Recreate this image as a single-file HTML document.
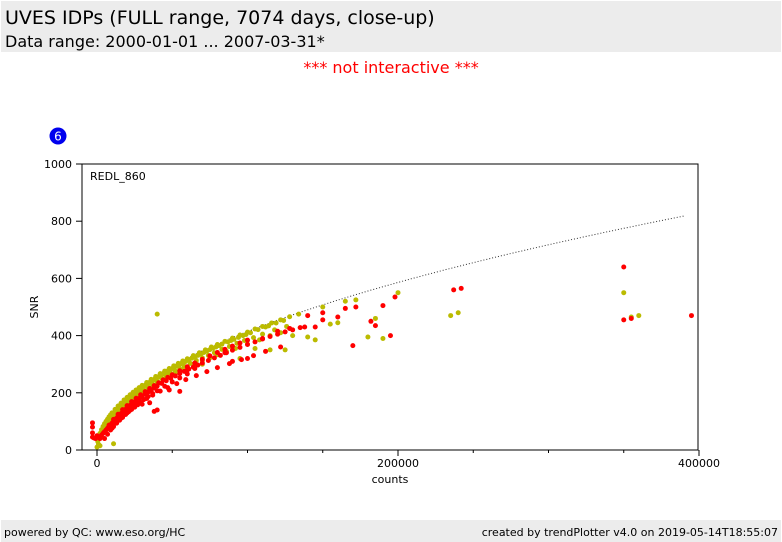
<!DOCTYPE html>
<html><head><meta charset="utf-8"><style>
body{margin:0;width:782px;height:542px;background:#fff;font-family:"DejaVu Sans",sans-serif;overflow:hidden;position:relative}
#hdr{position:absolute;left:1px;top:1px;width:780px;height:51px;background:#ececec}
#t1{position:absolute;left:4px;top:6px;font-size:19px;color:#000}
#t2{position:absolute;left:4px;top:31px;font-size:16px;color:#000}
#ni{position:absolute;left:0;width:782px;text-align:center;top:58px;font-size:16px;color:#f00}
#ftr{position:absolute;left:1px;top:520px;width:780px;height:22px;background:#ececec;font-size:11px}
#fl{position:absolute;left:3px;top:6px}#fr{position:absolute;right:3px;top:6px}
svg{position:absolute;left:0;top:0}
</style></head><body>
<div id="hdr">
<div id="t1">UVES IDPs (FULL range, 7074 days, close-up)</div>
<div id="t2">Data range: 2000-01-01 ... 2007-03-31*</div></div>
<div id="ni">*** not interactive ***</div>
<svg id="chart" width="782" height="542" font-family="DejaVu Sans, sans-serif">
<circle cx="58" cy="136" r="8.5" fill="#0000ee"/>
<text x="58" y="140.5" fill="#fff" font-size="12" text-anchor="middle">6</text>
<g id="marks"></g>
<rect x="82" y="164" width="616" height="286" fill="none" stroke="#000" stroke-width="1"/>
<text x="90" y="180" font-size="11">REDL_860</text>
<g id="axes" font-size="11"></g>
<text x="390" y="483" font-size="11" text-anchor="middle">counts</text>
<text x="38" y="307" font-size="11" text-anchor="middle" transform="rotate(-90 38 307)">SNR</text>
</svg>
<div id="ftr"><span id="fl">powered by QC: www.eso.org/HC</span><span id="fr">created by trendPlotter v4.0 on 2019-05-14T18:55:07</span></div>
<script>
const xTicks=[0,200000,400000];
const xMinor=[50000,100000,150000,250000,300000,350000];
const yTicks=[0,200,400,600,800,1000];
const curveK=1.31;
// counts in thousands, SNR
const yelC=[1,2,3,4,5,6,7,8,9,10,12,14,16,18,20,22,24,26,28,30,33,36,39,42,45,48,51,54,57,60,64,68,72,76,80,85,90,95,100,105,110,116,122,128,134,
 2,3,5,7,9,11,13,15,17,19,21,23,25,27,29,31,34,37,40,43,46,49,52,55,58,62,66,70,74,78,83,88,93,98,104,110,118,126,
 4,6,8,10,12,14,16,18,20,22,24,26,28,31,34,37,40,44,48,52,56,60,65,70,75,80,86,92,100,108,115,122,
 1.5,2.5,3.5,4.5,5.5,6.5,7.5,8.5,9.5,11,13,15,17,19,21,23,25,27,29,31,32,34,35,37,38,40,41,43,44,46,47,49,50,52,53,55,56,58,59,61,63,65,67,69,71,73,75,77,79,81,83,87,89,91,94,97,99,102,107,112,114,119,124,
 40,11,150,172,165,180,190,185,200,235,240,350,355,360,155,160,145,140,130,125,115,70,95,105,0,1,0.5,2];
const yelS=[40,58,71,82,92,100,108,116,123,130,142,154,164,175,184,193,202,210,218,226,236,247,257,267,276,285,294,303,311,319,330,340,350,360,369,380,391,402,412,423,432,444,455,466,475,
 45,58,78,94,108,120,132,142,152,161,170,178,187,195,203,210,220,230,240,250,259,267,276,284,292,303,313,322,331,340,352,362,373,383,393,405,420,432,
 62,80,95,110,122,134,144,154,163,172,180,188,196,206,217,227,237,248,260,270,280,290,302,313,322,333,345,355,370,385,400,410,
 43,57,70,80,89,98,105,113,120,129,141,152,163,172,182,191,199,207,215,223,226,234,237,244,247,254,257,264,267,273,276,282,285,291,294,299,302,307,310,316,321,326,331,336,341,346,351,356,360,365,370,378,383,387,394,400,404,410,421,430,434,444,453,
 475,22,500,525,520,395,390,460,550,470,480,550,465,470,440,445,385,395,400,350,350,300,320,355,10,20,30,15];
const redC=[-3,-3,-3,-3,-2,-1,0,1,2,3,4,5,6,7,8,9,10,11,12,13,14,15,16,17,18,19,20,21,22,23,24,25,26,28,30,32,34,36,38,40,43,46,49,52,55,58,61,64,67,70,74,78,82,86,90,95,100,105,110,115,120,125,130,135,
 5,7,9,11,13,15,17,19,21,23,25,27,29,33,37,42,47,53,59,66,73,80,88,96,104,112,122,
 8,11,14,17,20,23,26,29,32,35,38,41,44,47,50,55,60,65,70,75,80,85,90,95,100,
 10,13,16,19,22,25,28,31,34,37,40,45,50,55,60,
 55,38,40,150,150,160,165,170,172,182,185,190,195,198,237,242,350,350,355,395,140,138,145,128,120,110,90,100,85,60,65,48,35,30,25,20];
const redS=[95,80,60,45,42,40,50,45,40,52,58,64,70,76,82,88,94,100,106,111,117,122,127,132,137,142,147,151,156,160,164,168,172,180,188,196,203,210,217,224,233,242,251,259,267,275,283,290,297,304,313,322,331,340,349,359,369,378,388,397,405,413,420,428,
 40,55,70,82,94,104,114,124,134,142,150,158,166,180,192,206,218,232,246,260,274,288,302,316,330,345,360,
 87,107,125,141,155,169,181,193,204,215,225,235,245,254,263,277,291,304,317,329,341,352,363,374,384,
 76,94,111,126,139,152,164,176,187,197,207,223,238,252,266,
 205,135,140,455,480,465,495,365,500,450,435,505,400,535,560,565,640,455,460,470,470,430,430,425,415,390,310,320,340,280,285,210,165,160,150,130];
const X=v=>97+v*301/200000, Y=v=>450-v*0.286;
const NS='http://www.w3.org/2000/svg';
const axes=document.getElementById('axes'), marks=document.getElementById('marks');
function mk(t,p,a){const e=document.createElementNS(NS,t);for(const k in a)e.setAttribute(k,a[k]);p.appendChild(e);return e;}
xTicks.forEach(v=>{const l=mk('line',axes,{x1:X(v),x2:X(v),y1:450,y2:456,stroke:'#000'});


const t=mk('text',axes,{x:X(v),y:467,'text-anchor':'middle'});t.textContent=v;

});
xMinor.forEach(v=>{const l=mk('line',axes,{x1:X(v),x2:X(v),y1:450,y2:453,stroke:'#000'});

});
yTicks.forEach(v=>{const l=mk('line',axes,{x1:76,x2:82,y1:Y(v),y2:Y(v),stroke:'#000'});


const t=mk('text',axes,{x:72,y:Y(v)+4,'text-anchor':'end'});t.textContent=v;

});
let d='';for(let c=0;c<=390000;c+=2500){d+=(c?'L':'M')+X(c).toFixed(1)+','+Y(curveK*Math.sqrt(c)).toFixed(1);}
const cv=mk('path',marks,{d:d,fill:'none',stroke:'#333','stroke-width':1,'stroke-dasharray':'1,2'});


yelC.forEach((c,i)=>{const p=mk('circle',marks,{cx:X(c*1000),cy:Y(yelS[i]),r:2.5,fill:'#bbbb00'});

});
redC.forEach((c,i)=>{const p=mk('circle',marks,{cx:X(c*1000),cy:Y(redS[i]),r:2.5,fill:'#ff0000'});

});
</script>
</body></html>
